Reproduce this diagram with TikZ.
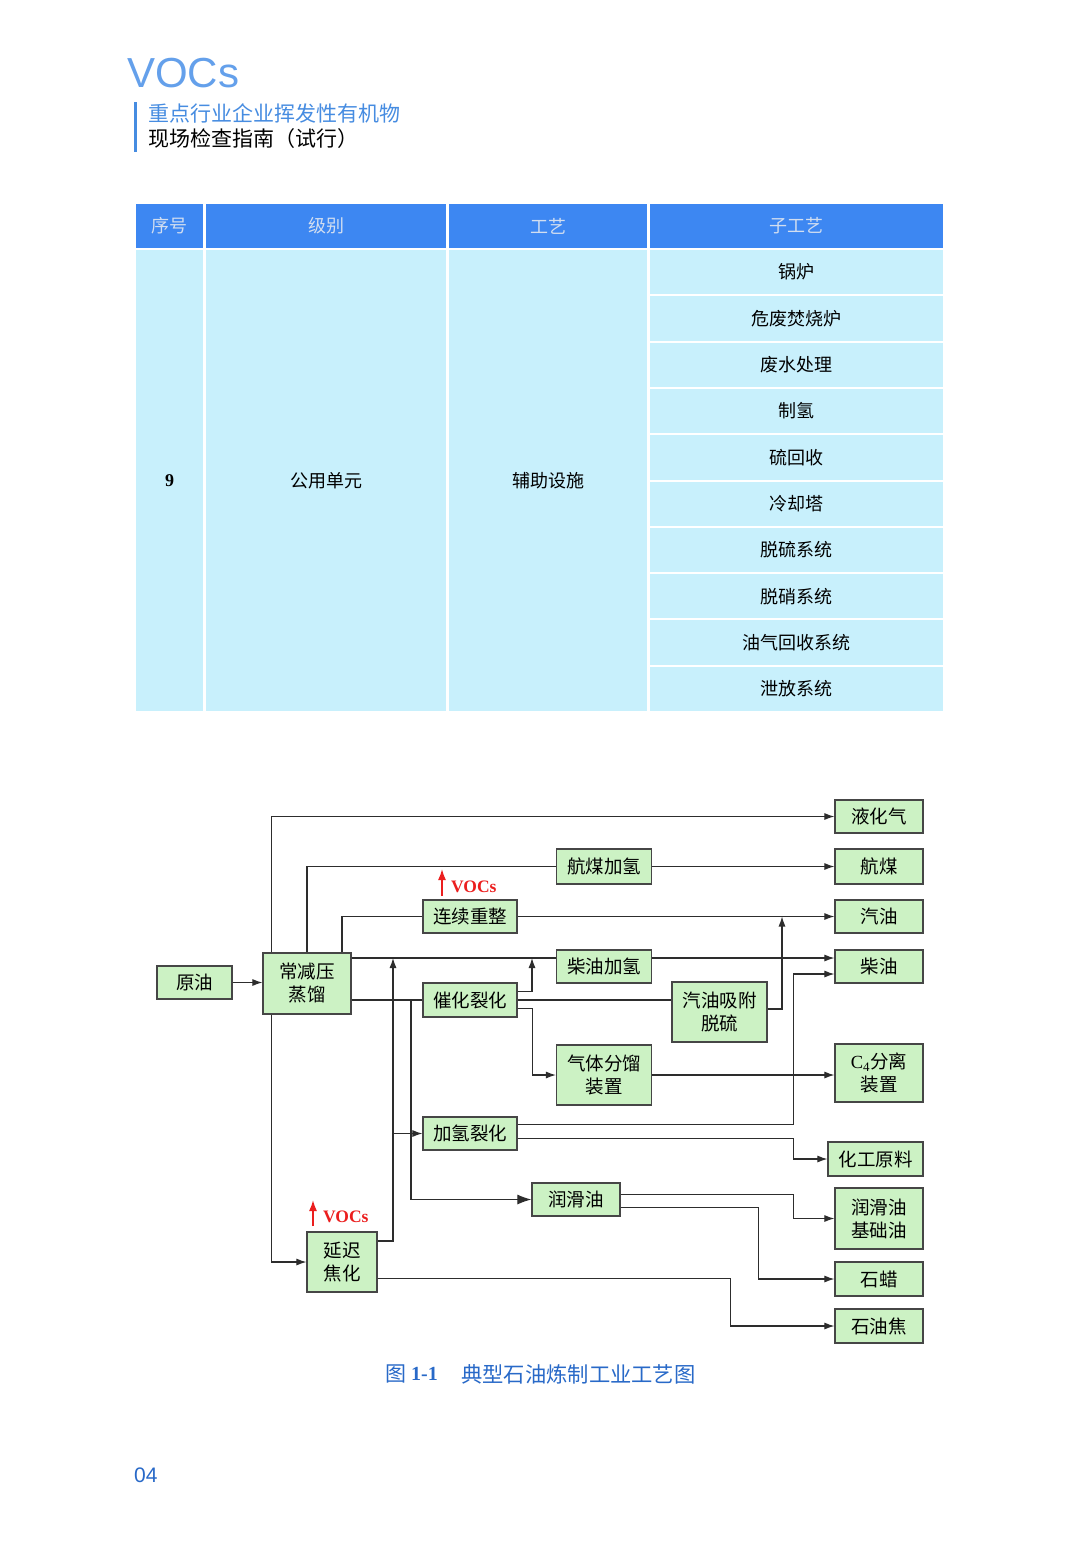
\documentclass[tikz,border=0pt]{standalone}
\usepackage{fontspec}
\setmainfont{Liberation Sans}
\newfontfamily\cjk{Noto Sans CJK SC}
\newfontfamily\tnr{Liberation Serif}
\usetikzlibrary{arrows.meta,calc}
\definecolor{hdrblue}{RGB}{61,135,242}
\definecolor{hdrtext}{RGB}{210,222,240}
\definecolor{bodycyan}{RGB}{200,240,252}
\definecolor{boxgreen}{RGB}{204,242,196}
\definecolor{boxedge}{RGB}{70,70,70}
\definecolor{linegray}{RGB}{45,45,45}
\definecolor{vocsblue}{RGB}{100,160,235}
\definecolor{titleblue}{RGB}{70,140,225}
\definecolor{capblue}{RGB}{40,105,200}
\definecolor{vocsred}{RGB}{235,30,30}
\tikzset{
  hcell/.style={fill=hdrblue, inner sep=0pt, text=hdrtext, font=\cjk\fontsize{18}{22}\selectfont},
  bcell/.style={fill=bodycyan, inner sep=0pt, text=black, font=\cjk\fontsize{18}{22}\selectfont},
  box/.style={draw=boxedge, fill=boxgreen, line width=1.2pt, inner sep=0pt, align=center, font=\cjk\fontsize{18.5}{23}\selectfont},
  conn/.style={draw=linegray, line width=1.1pt},
  arr/.style={conn, -{Latex[length=10pt,width=7pt]}},
  bigarr/.style={conn, -{Latex[length=14pt,width=10pt]}},
  vocsarr/.style={draw=vocsred, line width=1.6pt, -{Latex[length=11pt,width=8pt]}},
  vocstxt/.style={text=vocsred, font=\tnr\bfseries\fontsize{17.5}{18}\selectfont, inner sep=0pt, anchor=west},
}
\begin{document}
\begin{tikzpicture}[x=1pt,y=-1pt]
\useasboundingbox (0,0) rectangle (1080,1553);
\fill[white] (0,0) rectangle (1080,1553);

% ---------- page header ----------
\node[anchor=base west, inner sep=0pt, text=vocsblue, font=\fontsize{42}{42}\selectfont] (vocs) at (127,87) {VOCs};
\draw[titleblue, line width=3pt] (135,102) -- (135,152);
\node[anchor=west, inner sep=0pt, text=titleblue, font=\cjk\fontsize{21}{24}\selectfont] (t1) at (148,113) {重点行业企业挥发性有机物};
\node[anchor=west, inner sep=0pt, text=black, font=\cjk\fontsize{21}{24}\selectfont] (t2) at (148,139) {现场检查指南（试行）};

% ---------- table ----------
\node[hcell, minimum width=67pt, minimum height=44pt] (h1) at (169.5,226) {序号};
\node[hcell, minimum width=240pt, minimum height=44pt] (h2) at (326,226) {级别};
\node[hcell, minimum width=198pt, minimum height=44pt] (h3) at (548,226) {工艺};
\node[hcell, minimum width=293pt, minimum height=44pt] (h4) at (796.5,226) {子工艺};
\node[bcell, minimum width=67pt, minimum height=461pt] (b1) at (169.5,480.5) {\tnr\bfseries 9};
\node[bcell, minimum width=240pt, minimum height=461pt] (b2) at (326,480.5) {公用单元};
\node[bcell, minimum width=198pt, minimum height=461pt] (b3) at (548,480.5) {辅助设施};
\foreach \t [count=\i from 0] in {锅炉,危废焚烧炉,废水处理,制氢,硫回收,冷却塔,脱硫系统,脱硝系统,油气回收系统,泄放系统}
  \node[bcell, minimum width=293pt, minimum height=44.3pt] (s\i) at (796.5,{272.15+46.3*\i}) {\t};

% ---------- flow diagram boxes ----------
\node[box, minimum width=75pt, minimum height=33pt] (yy) at (194.5,982.5) {原油};
\node[box, minimum width=88pt, minimum height=61pt] (czy) at (307,983.5) {常减压\\蒸馏};
\node[box, minimum width=94pt, minimum height=33pt] (lxcz) at (470,916.5) {连续重整};
\node[box, minimum width=94pt, minimum height=34pt] (chlh) at (470,1000) {催化裂化};
\node[box, minimum width=95pt, minimum height=35pt] (hmjq) at (604,866.5) {航煤加氢};
\node[box, minimum width=95pt, minimum height=33pt] (cyjq) at (604,966.5) {柴油加氢};
\node[box, minimum width=95pt, minimum height=60pt] (qyxf) at (719.5,1012) {汽油吸附\\脱硫};
\node[box, minimum width=95pt, minimum height=60pt] (qtfl) at (604,1075) {气体分馏\\装置};
\node[box, minimum width=94pt, minimum height=33pt] (jqlh) at (470,1133.5) {加氢裂化};
\node[box, minimum width=88pt, minimum height=33pt] (rhy) at (576,1199.5) {润滑油};
\node[box, minimum width=70pt, minimum height=60pt] (ycjh) at (342,1262) {延迟\\焦化};

\node[box, minimum width=88pt, minimum height=33pt] (lhq) at (879,816.5) {液化气};
\node[box, minimum width=88pt, minimum height=35pt] (hm) at (879,866.5) {航煤};
\node[box, minimum width=88pt, minimum height=33pt] (qy) at (879,916.5) {汽油};
\node[box, minimum width=88pt, minimum height=33pt] (cy) at (879,966.5) {柴油};
\node[box, minimum width=88pt, minimum height=58pt] (c4) at (879,1073) {{\tnr C\textsubscript{4}}分离\\装置};
\node[box, minimum width=95pt, minimum height=34pt] (hgyl) at (875.5,1159) {化工原料};
\node[box, minimum width=88pt, minimum height=61pt] (rhyjc) at (879,1218.5) {润滑油\\基础油};
\node[box, minimum width=88pt, minimum height=34pt] (sl) at (879,1279) {石蜡};
\node[box, minimum width=88pt, minimum height=34pt] (syj) at (879,1326) {石油焦};

% ---------- connectors ----------
\draw[arr] (yy.east) -- (yy.east -| czy.west);
\draw[arr] ([xshift=9pt]czy.north west) |- (lhq.west);
\draw[arr] ([xshift=9pt]czy.south west) |- (ycjh.west);
\draw[conn] (czy.north) |- (hmjq.west);
\draw[arr] (hmjq.east) -- (hm.west);
\draw[conn] ([xshift=35pt]czy.north) |- (lxcz.west);
\draw[arr] (lxcz.east) -- (qy.west);
\draw[conn] ([yshift=25.5pt]czy.east) -- ([yshift=8.5pt]cyjq.west);
\draw[arr] ([yshift=8.5pt]cyjq.east) -- ([yshift=8.5pt]cy.west);
\draw[conn] ([yshift=-16.5pt]czy.east) -- (chlh.west);
\coordinate (j1) at (411,1000);
\draw[bigarr] (j1) |- (rhy.west);
\coordinate (j2) at (393,958);
\draw[arr] ([yshift=21pt]ycjh.east) -| (j2);
\coordinate (j3) at (393,1133.5);
\draw[arr] (j3) -- (jqlh.west);
\coordinate (j4) at (532,958);
\draw[arr] ([yshift=8.3pt]chlh.east) -| (j4);
\draw[conn] (chlh.east) -- (chlh.east -| qyxf.west);
\draw[arr] ([yshift=-8.3pt]chlh.east) -- ++(15,0) |- (qtfl.west);
\coordinate (j5) at (782,916.5);
\draw[arr] ([yshift=3pt]qyxf.east) -| (j5);
\draw[arr] (qtfl.east) -- (qtfl.east -| c4.west);
\draw[arr] ([yshift=9pt]jqlh.east) -- ++(276,0) |- ([yshift=-7.5pt]cy.west);
\draw[arr] ([yshift=-5pt]jqlh.east) -- ++(276,0) |- (hgyl.west);
\draw[arr] ([yshift=5.2pt]rhy.east) -- ++(173,0) |- (rhyjc.west);
\draw[arr] ([yshift=-8.2pt]rhy.east) -- ++(138,0) |- (sl.west);
\draw[arr] ([yshift=-16.7pt]ycjh.east) -- ++(353,0) |- (syj.west);

% ---------- VOCs marks ----------
\coordinate (v1b) at (442,896);
\coordinate (v1t) at (442,869);
\draw[vocsarr] (v1b) -- (v1t);
\node[vocstxt] (v1) at (451,887) {VOCs};
\coordinate (v2b) at (313,1226);
\coordinate (v2t) at (313,1200);
\draw[vocsarr] (v2b) -- (v2t);
\node[vocstxt] (v2) at (323,1217) {VOCs};

% ---------- caption and page number ----------
\node[anchor=west, inner sep=0pt, text=capblue, font=\cjk\fontsize{21}{24}\selectfont] (cap1) at (385,1374) {图};
\node[anchor=west, inner sep=0pt, text=capblue, font=\tnr\bfseries\fontsize{20}{24}\selectfont] (cap2) at (411,1374) {1-1};
\node[anchor=west, inner sep=0pt, text=capblue, font=\cjk\fontsize{21.3}{24}\selectfont] (cap3) at (461,1374) {典型石油炼制工业工艺图};
\node[anchor=west, inner sep=0pt, text=capblue, font=\fontsize{21}{24}\selectfont] (pg) at (134,1475) {04};
\end{tikzpicture}
\end{document}
